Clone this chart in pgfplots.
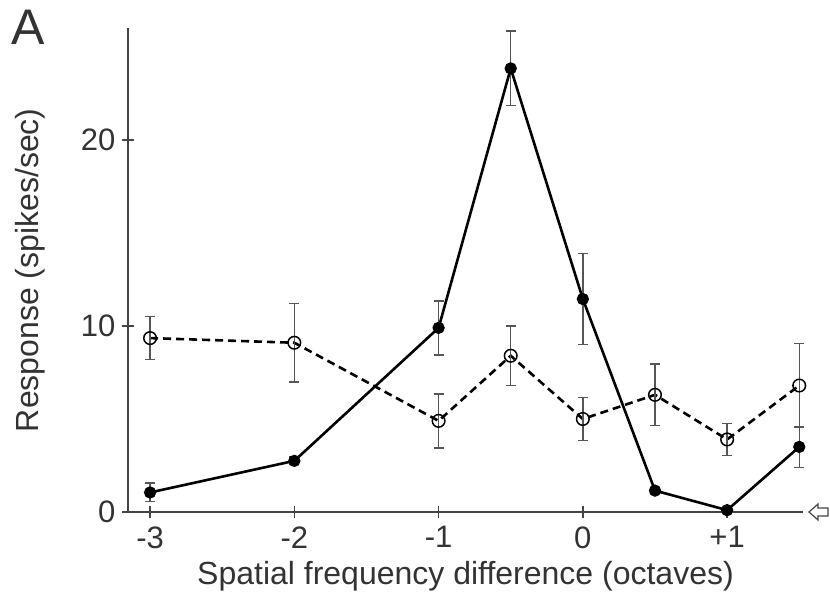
\documentclass[border=0pt]{standalone}
\usepackage{fontspec}
\setmainfont{Liberation Sans}
\usepackage{pgfplots}
\pgfplotsset{compat=1.18}
\definecolor{axisgray}{HTML}{444444}
\definecolor{txt}{HTML}{333333}
\definecolor{errgray}{HTML}{555555}
\begin{document}
\begin{tikzpicture}
\path[use as bounding box] (-128pt,-85pt) rectangle (702pt,512pt);
\begin{axis}[
  at={(0pt,0pt)}, anchor=south west,
  scale only axis, width=675pt, height=483.6pt,
  xmin=-3.153, xmax=1.526, ymin=0, ymax=26,
  axis x line=bottom, axis y line=left,
  axis line style={-, line width=1.6pt, draw=axisgray},
  xtick={-3,-2,-1,0,1}, xticklabels={-3,-2,-1,0,+1},
  ytick={0,10,20}, yticklabels={0,10,20},
  tick align=center, major tick length=12pt,
  tick style={line width=1.4pt, draw=axisgray},
  ticklabel style={font=\fontsize{31}{33}\selectfont, text=txt},
  xticklabel style={yshift=-5pt},
  yticklabel style={xshift=-3pt},
  xlabel={Spatial frequency difference (octaves)},
  ylabel={Response (spikes/sec)},
  label style={font=\fontsize{32}{34}\selectfont, text=txt},
  xlabel style={yshift=-6pt},
  ylabel style={yshift=29pt},
  clip=false,
]
\addplot[black, line width=2.6pt, dash pattern=on 8pt off 5pt,
  mark=o, mark size=6.3pt, mark options={solid, fill=white, draw=black, line width=1.5pt},
  error bars/.cd, y dir=both, y explicit,
  error bar style={line width=1.4pt, draw=errgray, solid},
  error mark options={rotate=90, line width=1.4pt, mark size=5pt, draw=errgray, solid}]
table[x=x, y=y, y error=e] {
x y e
-3 9.35 1.15
-2 9.1 2.1
-1 4.9 1.45
-0.5 8.4 1.6
0 5.0 1.15
0.5 6.3 1.65
1 3.9 0.85
1.5 6.8 2.25
};
\addplot[black, line width=2.6pt,
  mark=*, mark size=4.8pt, mark options={solid, fill=black, draw=black},
  error bars/.cd, y dir=both, y explicit,
  error bar style={line width=1.4pt, draw=errgray, solid},
  error mark options={rotate=90, line width=1.4pt, mark size=5pt, draw=errgray, solid}]
table[x=x, y=y, y error=e] {
x y e
-3 1.05 0.5
-2 2.75 0.2
-1 9.9 1.45
-0.5 23.85 2.0
0 11.45 2.45
0.5 1.15 0
1 0.1 0
1.5 3.5 1.1
};
\end{axis}
\node[font=\fontsize{50}{50}\selectfont, text=txt, anchor=north west, inner sep=0pt] at (-117pt,502pt) {A};
\draw[axisgray, line width=1.2pt, fill=white] (681pt,0pt) -- (690pt,8pt) -- (690pt,4pt) -- (700pt,4pt) -- (700pt,-4pt) -- (690pt,-4pt) -- (690pt,-8pt) -- cycle;
\end{tikzpicture}
\end{document}
